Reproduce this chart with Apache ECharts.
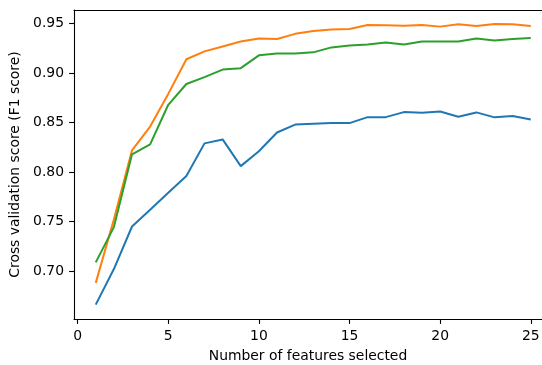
<!DOCTYPE html>
<html><head><meta charset="utf-8">
<script src="https://cdn.jsdelivr.net/npm/echarts@6/dist/echarts.min.js"></script>
<style>html,body{margin:0;padding:0;background:#fff}#c{width:542px;height:365px}</style>
</head><body><div id="c"></div>
<script>
const features = [1,2,3,4,5,6,7,8,9,10,11,12,13,14,15,16,17,18,19,20,21,22,23,24,25];
const blueScores = [0.666,0.702,0.745,0.762,0.779,0.796,0.829,0.833,0.806,0.821,0.840,0.848,0.8488,0.8495,0.8495,0.8555,0.8555,0.8606,0.860,0.8613,0.8559,0.8603,0.8553,0.8566,0.8532];
const orangeScores = [0.688,0.752,0.822,0.846,0.879,0.914,0.922,0.927,0.932,0.935,0.9345,0.9397,0.9426,0.944,0.9446,0.9486,0.9485,0.948,0.9486,0.947,0.9493,0.9476,0.9496,0.9493,0.9476];
const greenScores = [0.7087,0.7444,0.818,0.828,0.868,0.889,0.896,0.9036,0.905,0.918,0.9198,0.9198,0.921,0.926,0.928,0.929,0.931,0.929,0.932,0.932,0.932,0.935,0.933,0.9345,0.9355];
const xTicks = [0,5,10,15,20,25];
const yTicks = [0.70,0.75,0.80,0.85,0.90,0.95];
const xTitle = 'Number of features selected';
const yTitle = 'Cross validation score (F1 score)';

const font = 'DejaVu Sans';
const fs = 13.9;
const pairs = arr => features.map((f,i)=>[f,arr[i]]);
const mk = (data,color)=>({type:'line',data:pairs(data),symbol:'none',lineStyle:{color:color,width:2},itemStyle:{color:color},animation:false});
const chart = echarts.init(document.getElementById('c'));
chart.setOption({
  animation:false,
  grid:{left:74,right:0,top:10,bottom:46,containLabel:false,outerBoundsMode:'none'},
  xAxis:[{type:'value',min:-0.2,max:25.62,
    axisLine:{show:true,onZero:false,lineStyle:{color:'#000',width:1.1}},
    axisTick:{show:true,length:4.9,customValues:xTicks,lineStyle:{color:'#000',width:1.1}},
    axisLabel:{customValues:xTicks,color:'#000',fontFamily:font,fontSize:fs,margin:10},
    splitLine:{show:false},
    name:xTitle,nameLocation:'middle',nameGap:30.5,nameTextStyle:{color:'#000',fontFamily:font,fontSize:fs}},
    {type:'value',position:'top',min:-0.2,max:25.62,axisLine:{show:true,onZero:false,lineStyle:{color:'#000',width:1.1}},axisTick:{show:false},axisLabel:{show:false},splitLine:{show:false}}],
  yAxis:{type:'value',min:0.6515,max:0.9638,
    axisLine:{show:true,onZero:false,lineStyle:{color:'#000',width:1.1}},
    axisTick:{show:true,length:4.9,customValues:yTicks,lineStyle:{color:'#000',width:1.1}},
    axisLabel:{customValues:yTicks,color:'#000',fontFamily:font,fontSize:fs,margin:10,formatter:v=>v.toFixed(2)},
    splitLine:{show:false},
    name:yTitle,nameLocation:'middle',nameGap:44,nameTextStyle:{color:'#000',fontFamily:font,fontSize:fs}},
  series:[mk(blueScores,'#1f77b4'),mk(orangeScores,'#ff7f0e'),mk(greenScores,'#2ca02c')]
});
</script></body></html>
